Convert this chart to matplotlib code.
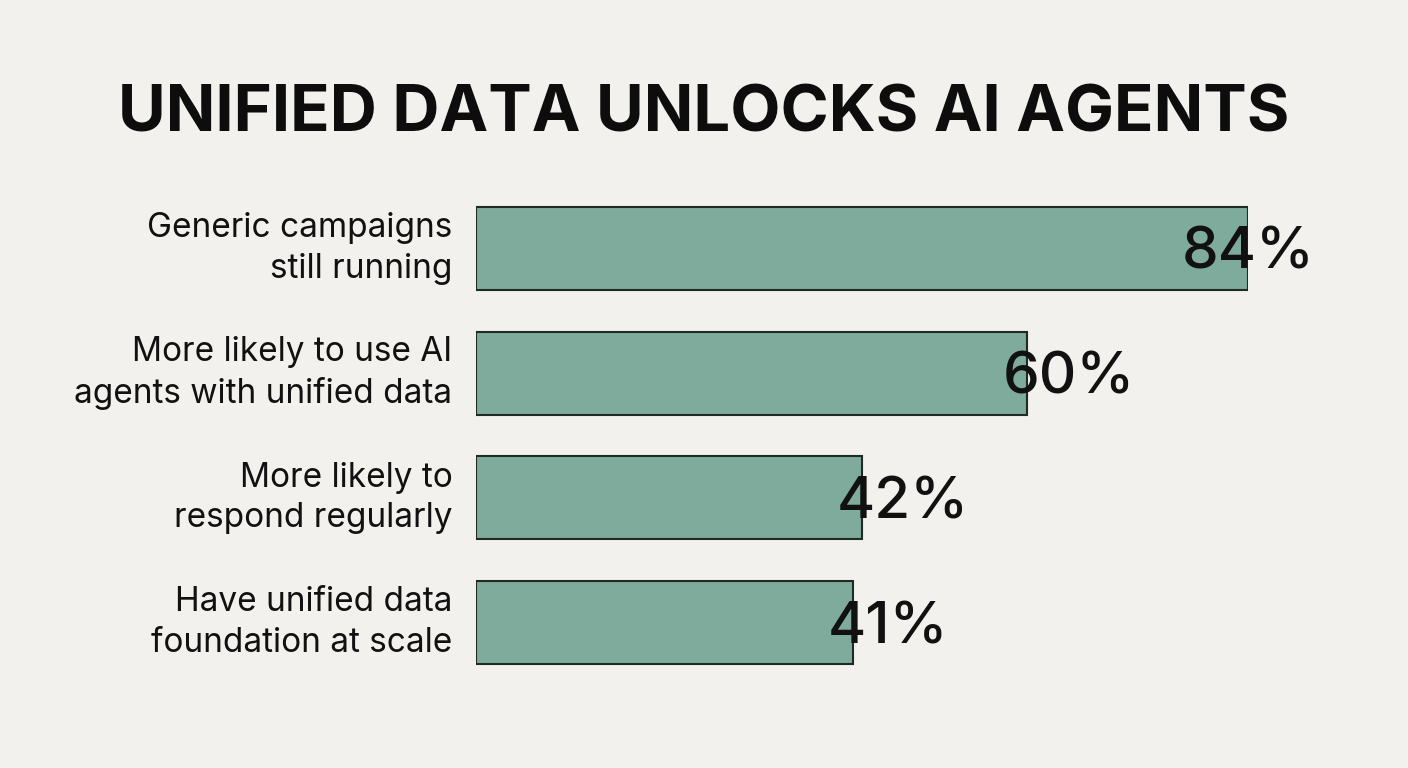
import matplotlib
matplotlib.use('Agg')
import matplotlib.pyplot as plt

categories = [
    'Generic campaigns\nstill running',
    'More likely to use AI\nagents with unified data',
    'More likely to\nrespond regularly',
    'Have unified data\nfoundation at scale',
]
values = [84, 60, 42, 41]
value_labels = ['84%', '60%', '42%', '41%']

BG = '#f2f1ed'
BAR = '#7fab9c'
EDGE = '#1e2a24'

plt.rcParams['font.family'] = ['Inter', 'DejaVu Sans']

fig = plt.figure(figsize=(14.08, 7.68), dpi=100, facecolor=BG)
ax = fig.add_axes([476 / 1408, 1 - 685 / 768, 772 / 1408, 499 / 768])
ax.set_facecolor('none')

ypos = list(range(len(values)))
ax.barh(ypos, values, height=0.666, color=BAR, edgecolor=EDGE, linewidth=1.5)
ax.set_xlim(0, max(values))
ax.set_ylim(3.5, -0.5)
ax.axis('off')

for y, v, cat, lab in zip(ypos, values, categories, value_labels):
    ax.annotate(cat, (0, y), xytext=(-17, 0), textcoords='offset points',
                ha='right', va='center', fontsize=24, color='#111111',
                linespacing=1.35, annotation_clip=False)
    # the longest bar's label is centred on its end so it stays inside the card
    if v == max(values):
        dx, ha = (0, 'center')
    else:
        dx, ha = (-18, 'left')
    ax.annotate(lab, (v, y), xytext=(dx, -4), textcoords='offset points',
                ha=ha, va='center', fontsize=42, fontweight='medium',
                color='#111111', annotation_clip=False)

fig.text(0.5, 1 - 114 / 768, 'UNIFIED DATA UNLOCKS AI AGENTS', ha='center',
         va='center', fontsize=47, fontweight='bold', color='#0d0d0d')

fig.savefig('out.png', dpi=100, facecolor=BG)
